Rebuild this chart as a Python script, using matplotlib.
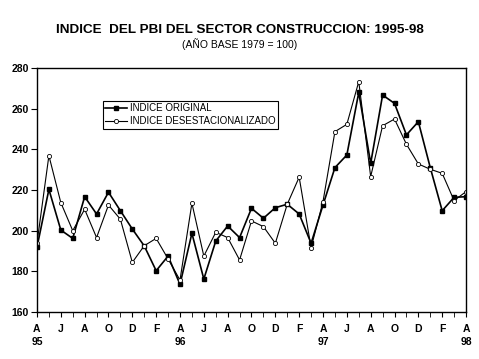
import matplotlib
matplotlib.use('Agg')
import matplotlib.pyplot as plt

plt.rcParams['font.family'] = ['Liberation Sans', 'DejaVu Sans']

# Monthly data, April 1995 - April 1998
original = [191.8, 220.3, 200.3, 196.2, 216.7, 208.2, 218.9, 209.8, 200.8, 192.5,
            180.3, 187.5, 173.6, 198.7, 176.2, 194.9, 202.3, 196.6, 211.0, 206.1,
            211.3, 213.0, 208.2, 193.8, 212.6, 231.0, 237.2, 268.0, 233.1, 266.7,
            262.6, 247.1, 253.6, 231.0, 209.8, 216.4, 216.7]
desest = [193.8, 236.9, 213.8, 200.0, 210.5, 196.6, 212.6, 205.6, 184.4, 192.6,
          196.2, 186.1, 175.7, 213.5, 187.5, 199.2, 196.6, 185.6, 204.8, 202.0,
          193.8, 213.0, 226.3, 191.6, 214.3, 248.7, 252.3, 273.3, 226.6, 251.6,
          254.9, 242.5, 232.8, 230.2, 228.2, 214.8, 219.2]
month_labels = ['A', 'J', 'A', 'O', 'D', 'F', 'A', 'J', 'A', 'O', 'D', 'F', 'A',
                'J', 'A', 'O', 'D', 'F', 'A']
year_labels = {0: '95', 6: '96', 12: '97', 18: '98'}
yticks = [160, 180, 200, 220, 240, 260, 280]

x = list(range(len(original)))

fig = plt.figure(figsize=(4.79, 3.59), dpi=100)
ax = fig.add_axes([0.0772, 0.1309, 0.8957, 0.6797])

ax.plot(x, original, color='black', linewidth=1.2, marker='s', markersize=3,
        label='INDICE ORIGINAL')
ax.plot(x, desest, color='black', linewidth=0.8, marker='o', markersize=3,
        markerfacecolor='white', markeredgewidth=0.6,
        label='INDICE DESESTACIONALIZADO')

ax.set_xlim(0, 36)
ax.set_ylim(160, 280)
ax.set_yticks(yticks)
ax.set_yticklabels([str(v) for v in yticks], fontweight='bold', fontsize=7.5)

major = list(range(0, 37, 2))
labels = []
for k, m in enumerate(month_labels):
    labels.append(m + '\n' + year_labels[k] if k in year_labels else m)
ax.set_xticks(major)
ax.set_xticklabels(labels, fontweight='bold', fontsize=7.5, linespacing=1.4,
                   verticalalignment='top')
ax.set_xticks(x, minor=True)
ax.tick_params(axis='x', which='both', direction='out', length=3.5, pad=5)
ax.tick_params(axis='y', direction='out', length=4, pad=2)
for s in ax.spines.values():
    s.set_linewidth(1.0)

leg = ax.legend(loc='upper left', bbox_to_anchor=(103 / 479, 1 - 101 / 359),
                bbox_transform=fig.transFigure, fontsize=7, frameon=True,
                fancybox=False, edgecolor='black', framealpha=1,
                borderpad=0.25, labelspacing=0.3, handlelength=2.2,
                handletextpad=0.3, borderaxespad=0)
leg.get_frame().set_linewidth(0.8)

fig.text(0.5, 1 - 30 / 359, 'INDICE  DEL PBI DEL SECTOR CONSTRUCCION: 1995-98',
         ha='center', va='center', fontsize=9.7, fontweight='bold')
fig.text(0.5, 1 - 44 / 359, '(AÑO BASE 1979 = 100)', ha='center', va='center',
         fontsize=7.5)

fig.savefig('out.png', dpi=100)
